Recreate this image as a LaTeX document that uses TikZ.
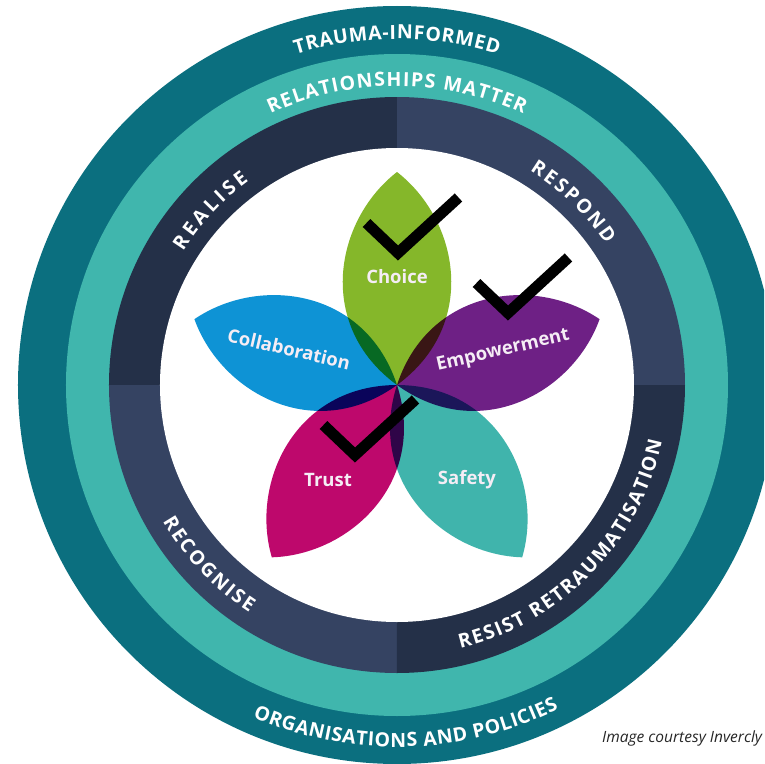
\documentclass[tikz,border=0pt]{standalone}
\usepackage{fontspec}
\setmainfont{Open Sans}
\usetikzlibrary{decorations.text}

\definecolor{outerteal}{HTML}{0B6F7F}
\definecolor{lightteal}{HTML}{40B6AD}
\definecolor{navydark}{HTML}{243048}
\definecolor{navylight}{HTML}{354362}
\definecolor{choicegreen}{HTML}{85B72A}
\definecolor{collabblue}{HTML}{0E93D5}
\definecolor{emppurple}{HTML}{6E2085}
\definecolor{trustpink}{HTML}{BE086C}
\definecolor{safetyteal}{HTML}{40B4AC}
\definecolor{petaltext}{HTML}{F5EDF5}

\newcommand{\petalpath}{(0,0) .. controls (60,82) and (165,62) .. (213,0) .. controls (165,-62) and (60,-82) .. (0,0) -- cycle}
\newcommand{\ringfont}{\fontsize{19.5}{21}\selectfont\bfseries}

\begin{document}
\begin{tikzpicture}[x=1pt, y=1pt, every node/.style={inner sep=0pt},
  petallabel/.style={text=petaltext, font=\fontsize{18.5}{20}\selectfont\bfseries},
  ringtext/.style={decorate, decoration={text along path, text={|\ringfont\color{white}|#1},
    text align=fit to path}}]
  \tikzstyle{tick}=[line width=11pt, line join=miter, line cap=butt, black]

\useasboundingbox (-397,-379) rectangle (367,385);
\clip (-397,-379) rectangle (367,385);

% rings
\fill[outerteal] (0,0) circle (379);
\fill[lightteal] (0,0) circle (331);
\fill[navylight] (0,0) -- (0,288) arc (90:0:288) -- cycle;
\fill[navydark]  (0,0) -- (-288,0) arc (180:90:288) -- cycle;
\fill[navylight] (0,0) -- (0,-288) arc (270:180:288) -- cycle;
\fill[navydark]  (0,0) -- (288,0) arc (360:270:288) -- cycle;
\fill[white] (0,0) circle (237);

% ring texts
\path[ringtext={TRAUMA-INFORMED}] (107:346) arc (107:73:346);
\path[ringtext={RELATIONSHIPS MATTER}] (115:299) arc (115:65:299);
\path[ringtext={ORGANISATIONS AND POLICIES}] (246.5:362) arc (246.5:296.5:362);
\path[ringtext={REALISE}] (148:252) arc (148:126:252);
\path[ringtext={RESPOND}] (58.2:252) arc (58.2:34:252);
\path[ringtext={RECOGNISE}] (210.2:271) arc (210.2:237:271);
\path[ringtext={RESIST RETRAUMATISATION}] (283.5:271) arc (283.5:348:271);

% petals
\begin{scope}[blend mode=multiply]
\fill[choicegreen, rotate=90]  \petalpath;
\fill[collabblue, rotate=162]  \petalpath;
\fill[emppurple, rotate=18]    \petalpath;
\fill[trustpink, rotate=234]   \petalpath;
\fill[safetyteal, rotate=306]  \petalpath;
\end{scope}

\node[petallabel] (choice) at (0,108) {Choice};
\node[petallabel, rotate=-13] (collab) at (-108,36) {Collaboration};
\node[petallabel, rotate=13] (empower) at (106,34) {Empowerment};
\node[petallabel] (trust) at (-69,-95) {Trust};
\node[petallabel] (safety) at (70,-95) {Safety};

% ticks
\draw[tick] (-30.5,162) -- (1,132) -- (61.5,187.5);
\draw[tick] (79.5,102) -- (111,72) -- (171.5,127.5);
\draw[tick] (-73.5,-40) -- (-42,-70) -- (18.5,-14.5);

\node[anchor=base west, font=\fontsize{15.5}{17}\selectfont\itshape, text=black!85] (credit) at (205,-357) {Image courtesy Invercly};

\end{tikzpicture}
\end{document}
